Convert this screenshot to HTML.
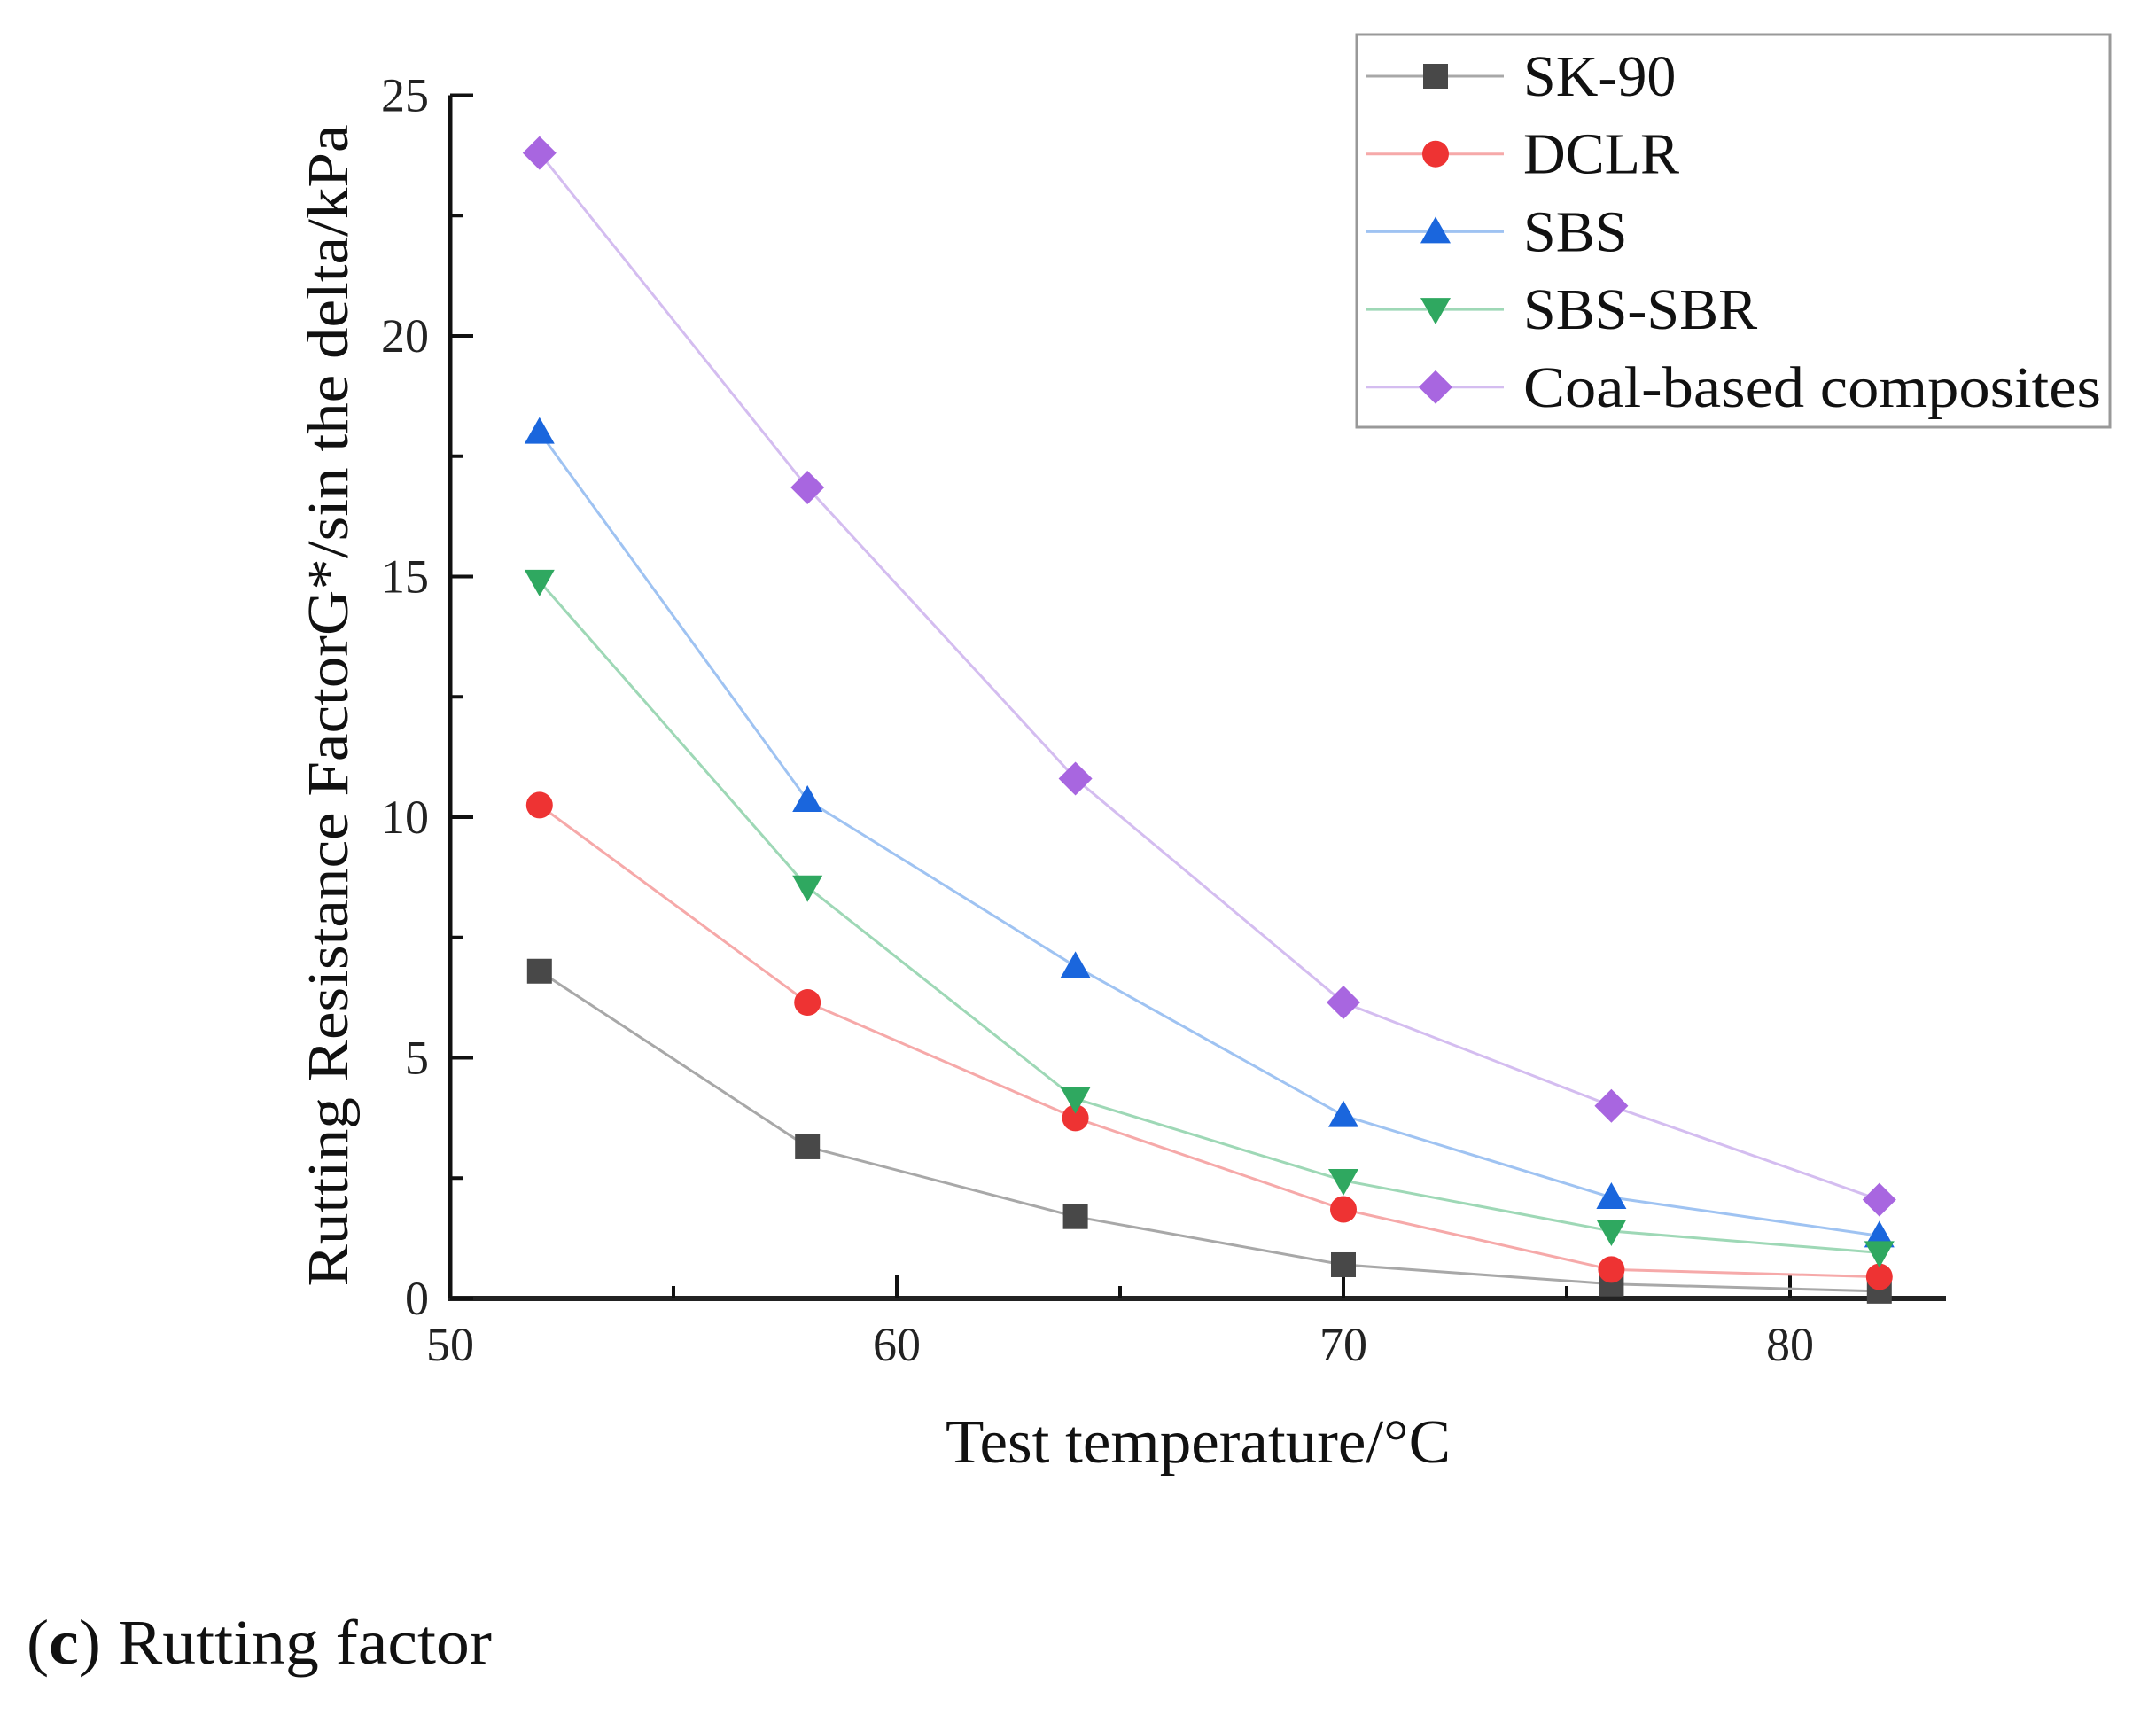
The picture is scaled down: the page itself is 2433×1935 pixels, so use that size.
<!DOCTYPE html>
<html><head><meta charset="utf-8">
<style>
html,body{margin:0;padding:0;background:#fff;}
svg{display:block;font-family:"Liberation Serif",serif;}
</style></head>
<body>
<svg id="chart" width="2433" height="1935" viewBox="0 0 2433 1935" xmlns="http://www.w3.org/2000/svg">
</svg>
<script>
const temps = [52, 58, 64, 70, 76, 82];
const sk90 = [6.8, 3.15, 1.7, 0.7, 0.3, 0.15];
const dclr = [10.25, 6.15, 3.75, 1.85, 0.6, 0.45];
const sbs = [18.0, 10.35, 6.9, 3.8, 2.1, 1.3];
const sbsSbr = [14.9, 8.55, 4.15, 2.45, 1.4, 0.95];
const coal = [23.8, 16.85, 10.8, 6.15, 4.0, 2.05];
const seriesNames = ["SK-90", "DCLR", "SBS", "SBS-SBR", "Coal-based composites"];
const xTicks = [50, 60, 70, 80];
const yTicks = [0, 5, 10, 15, 20, 25];

const NS = "http://www.w3.org/2000/svg";
const svg = document.getElementById("chart");
const X0 = 508, XS = 50.4, Y0 = 1465, YS = 54.3;
const xs = v => X0 + (v - 50) * XS;
const ys = v => Y0 - v * YS;
function mk(tag, attrs, parent) {
  const e = document.createElementNS(NS, tag);
  for (const k in attrs) e.setAttribute(k, attrs[k]);
  (parent || svg).appendChild(e);
  return e;
}
const series = [
  {vals: sk90, line: "#a8a8a8", fill: "#484848", shape: "square"},
  {vals: dclr, line: "#f6a9a9", fill: "#ee3333", shape: "circle"},
  {vals: sbs, line: "#9fc3f2", fill: "#1a66dd", shape: "up"},
  {vals: sbsSbr, line: "#9ed8b6", fill: "#2fa860", shape: "down"},
  {vals: coal, line: "#d4bdf0", fill: "#a866e0", shape: "diamond"}
];
function marker(shape, cx, cy, fill, parent) {
  if (shape === "square") return mk("rect", {x: cx - 14, y: cy - 14, width: 28, height: 28, fill}, parent);
  if (shape === "circle") return mk("circle", {cx, cy, r: 15, fill}, parent);
  if (shape === "up") return mk("polygon", {points: `${cx},${cy - 17} ${cx + 17},${cy + 13} ${cx - 17},${cy + 13}`, fill}, parent);
  if (shape === "down") return mk("polygon", {points: `${cx},${cy + 17} ${cx + 17},${cy - 13} ${cx - 17},${cy - 13}`, fill}, parent);
  return mk("polygon", {points: `${cx},${cy - 19} ${cx + 19},${cy} ${cx},${cy + 19} ${cx - 19},${cy}`, fill}, parent);
}

// axes
const axes = mk("g", {});


mk("line", {x1: X0, y1: Y0 + 2, x2: X0, y2: ys(25), stroke: "#111", "stroke-width": 5}, axes);
mk("line", {x1: X0 - 2, y1: Y0, x2: 2196, y2: Y0, stroke: "#222", "stroke-width": 6}, axes);
for (let v = 55; v <= 85; v += 10) if (xs(v) < 2190) mk("line", {x1: xs(v), y1: Y0, x2: xs(v), y2: Y0 - 14, stroke: "#111", "stroke-width": 4}, axes);
xTicks.forEach(v => {
  mk("line", {x1: xs(v), y1: Y0, x2: xs(v), y2: Y0 - 26, stroke: "#111", "stroke-width": 4}, axes);
  const t = mk("text", {x: xs(v), y: 1535, "font-size": 54, "text-anchor": "middle", fill: "#222"}, axes);
  t.textContent = v;
  
  
});
for (let v = 2.5; v < 25; v += 5) mk("line", {x1: X0, y1: ys(v), x2: X0 + 14, y2: ys(v), stroke: "#111", "stroke-width": 4}, axes);
yTicks.forEach(v => {
  mk("line", {x1: X0, y1: ys(v), x2: X0 + 26, y2: ys(v), stroke: "#111", "stroke-width": 4}, axes);
  const t = mk("text", {x: 484, y: ys(v) + 18, "font-size": 54, "text-anchor": "end", fill: "#222"}, axes);
  t.textContent = v;
  
  
});
const xt = mk("text", {x: 1352, y: 1650, "font-size": 70, "text-anchor": "middle", fill: "#111", textLength: 570, lengthAdjust: "spacingAndGlyphs"});
xt.textContent = "Test temperature/\u00b0C";


const yt = mk("text", {x: 0, y: 0, "font-size": 66, "text-anchor": "middle", fill: "#111", transform: "translate(392,796) rotate(-90)", textLength: 1311, lengthAdjust: "spacingAndGlyphs"});
yt.textContent = "Rutting Resistance FactorG*/sin the delta/kPa";



// series
series.forEach((s, i) => {
  const g = mk("g", {});
  
  
  mk("polyline", {points: s.vals.map((v, j) => xs(temps[j]) + "," + ys(v)).join(" "), fill: "none", stroke: s.line, "stroke-width": 3}, g);
  s.vals.forEach((v, j) => {
    const m = marker(s.shape, xs(temps[j]), ys(v), s.fill, g);
    
    
  });
});

// legend
const lg = mk("g", {});


mk("rect", {x: 1531, y: 39, width: 850, height: 443, fill: "#fff", stroke: "#999", "stroke-width": 3}, lg);
seriesNames.forEach((n, i) => {
  const y = 86 + i * 87.7;
  const e = mk("g", {}, lg);
  
  
  mk("line", {x1: 1542, y1: y, x2: 1697, y2: y, stroke: series[i].line, "stroke-width": 3}, e);
  marker(series[i].shape, 1620, y, series[i].fill, e);
  const t = mk("text", {x: 1719, y: y + 22, "font-size": 66, fill: "#111"}, e);
  t.textContent = n;
  if (i === 4) { t.setAttribute("textLength", 652); t.setAttribute("lengthAdjust", "spacingAndGlyphs"); }
});

// caption
const cap = mk("text", {x: 30, y: 1877, "font-size": 72, fill: "#111", textLength: 525, lengthAdjust: "spacingAndGlyphs"});


cap.innerHTML = '(<tspan font-weight="bold">c</tspan>) Rutting factor';
</script>
</body></html>
